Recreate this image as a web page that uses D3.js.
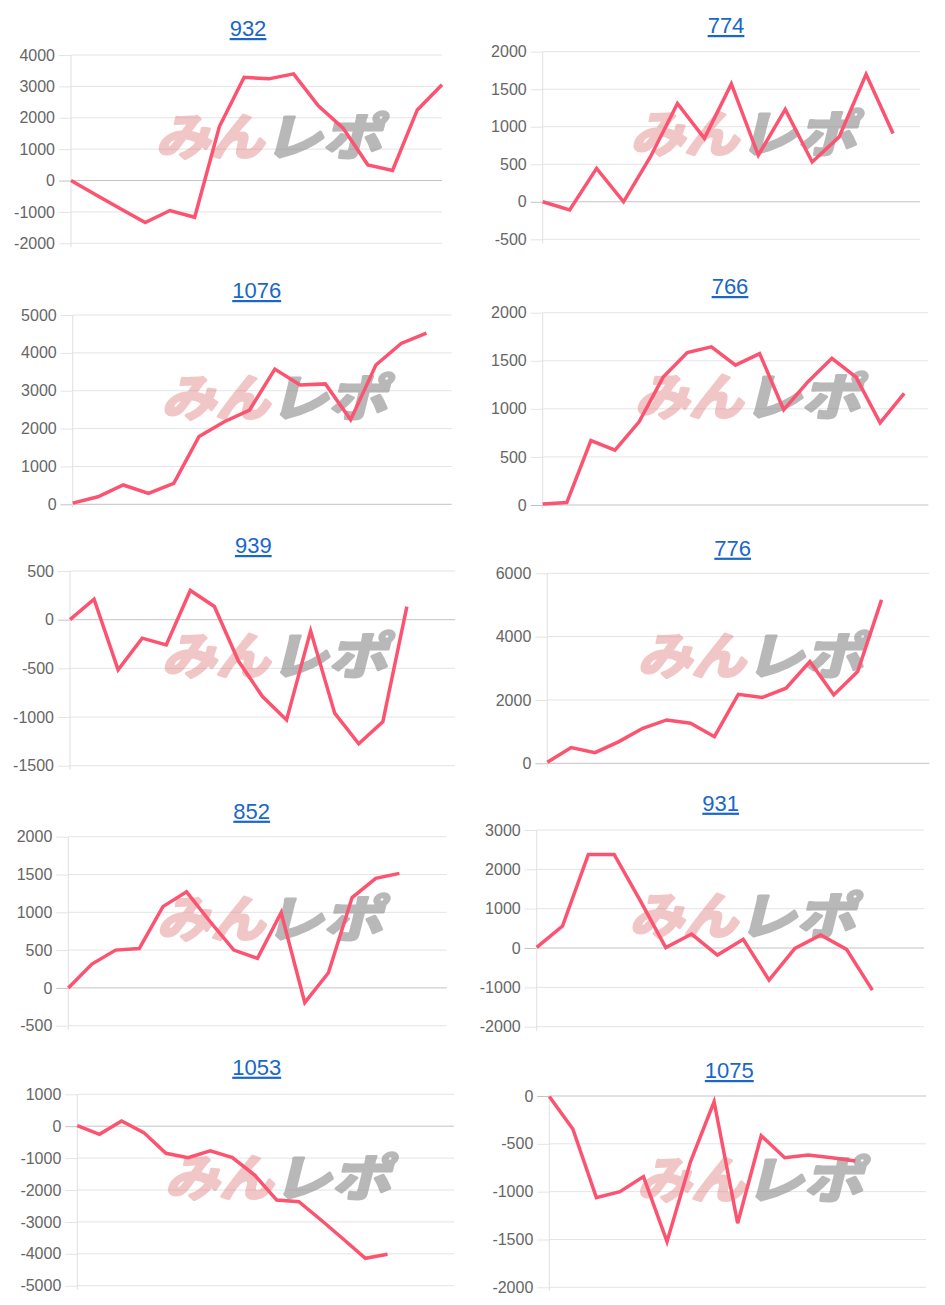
<!DOCTYPE html>
<html>
<head>
<meta charset="utf-8">
<script src="https://cdn.jsdelivr.net/npm/d3@7"></script>
<style>
  html, body { margin: 0; padding: 0; background: #fff; }
  svg { display: block; }
</style>
</head>
<body>
<svg id="chart" width="945" height="1305"></svg>
<script>
// ---------- DATA ----------
const titles = ["932", "774", "1076", "766", "939", "776", "852", "931", "1053", "1075"];

// number of x categories (hidden labels) per chart
const slotCounts = [16, 15, 16, 17, 17, 17, 17, 16, 18, 17];

const s932  = [0, -450, -900, -1340, -955, -1170, 1720, 3290, 3240, 3400, 2380, 1670, 500, 320, 2250, 3050];
const s774  = [0, -110, 445, 0, 600, 1310, 845, 1570, 620, 1230, 530, 865, 1700, 910];
const s1076 = [30, 200, 510, 290, 555, 1790, 2180, 2490, 3570, 3150, 3180, 2230, 3680, 4250, 4520];
const s766  = [10, 25, 670, 570, 865, 1330, 1585, 1645, 1455, 1575, 990, 1280, 1525, 1330, 855, 1160];
const s939  = [0, 210, -515, -190, -260, 300, 135, -425, -790, -1030, -115, -960, -1275, -1050, 135];
const s776  = [30, 495, 335, 685, 1105, 1370, 1265, 840, 2180, 2080, 2370, 3210, 2160, 2895, 5160];
const s852  = [0, 315, 500, 520, 1075, 1270, 875, 500, 390, 995, -195, 200, 1195, 1450, 1515];
const s931  = [15, 560, 2380, 2380, 1220, 10, 355, -180, 220, -815, -10, 330, -35, -1070];
const s1053 = [15, -255, 165, -200, -850, -985, -775, -985, -1530, -2315, -2365, -2940, -3535, -4140, -4015];
const s1075 = [-5, -345, -1063, -1000, -843, -1523, -686, -60, -1330, -415, -645, -617, -645, -680];

const seriesList = [s932, s774, s1076, s766, s939, s776, s852, s931, s1053, s1075];

// y tick labels per chart
const ticks932  = [-2000, -1000, 0, 1000, 2000, 3000, 4000];
const ticks774  = [-500, 0, 500, 1000, 1500, 2000];
const ticks1076 = [0, 1000, 2000, 3000, 4000, 5000];
const ticks766  = [0, 500, 1000, 1500, 2000];
const ticks939  = [-1500, -1000, -500, 0, 500];
const ticks776  = [0, 2000, 4000, 6000];
const ticks852  = [-500, 0, 500, 1000, 1500, 2000];
const ticks931  = [-2000, -1000, 0, 1000, 2000, 3000];
const ticks1053 = [-5000, -4000, -3000, -2000, -1000, 0, 1000];
const ticks1075 = [-2000, -1500, -1000, -500, 0];

const tickList = [ticks932, ticks774, ticks1076, ticks766, ticks939, ticks776, ticks852, ticks931, ticks1053, ticks1075];

// ---------- LAYOUT (plot boxes) ----------
const layout = [
  {l: 71,    r: 442,   t: 55,    b: 243.3,  tx: 248,   ty: 28},
  {l: 542.7, r: 920,   t: 51.7,  b: 239.3,  tx: 726,   ty: 25},
  {l: 72.7,  r: 451.7, t: 315,   b: 504.3,  tx: 256.7, ty: 290},
  {l: 542.7, r: 928.3, t: 312.7, b: 505,    tx: 730,   ty: 286},
  {l: 70,    r: 455,   t: 571,   b: 765.7,  tx: 253.3, ty: 545},
  {l: 547.3, r: 929.3, t: 573.3, b: 763.3,  tx: 732.7, ty: 547.7},
  {l: 68.3,  r: 446.7, t: 836.7, b: 1025.7, tx: 251.7, ty: 810.7},
  {l: 536.7, r: 924,   t: 830,   b: 1026.7, tx: 720.7, ty: 802.7},
  {l: 77.3,  r: 454,   t: 1094.3,b: 1285.7, tx: 256.7, ty: 1066.7},
  {l: 549.3, r: 926,   t: 1096,  b: 1287.3, tx: 729.3, ty: 1070}
];

const LINE_COLOR = "#fb5370";
const svg = d3.select("#chart");
svg.append("rect").attr("width", 945).attr("height", 1305).attr("fill", "#fff");

titles.forEach((title, i) => {
  const L = layout[i];
  const data = seriesList[i];
  const tks = tickList[i];
  const cats = d3.range(slotCounts[i]);

  const x = d3.scalePoint().domain(cats).range([L.l, L.r]);
  const y = d3.scaleLinear().domain([d3.min(tks), d3.max(tks)]).range([L.b, L.t]);

  const g = svg.append("g");

  // title
  g.append("text")
    .attr("x", L.tx).attr("y", L.ty + 8)
    .attr("text-anchor", "middle")
    .attr("font-family", "Liberation Sans, Arial, sans-serif")
    .attr("font-size", 22)
    .attr("fill", "#1967c9")
    .attr("text-decoration", "underline")
    .text(title);

  // y axis via d3.axisLeft, restyled
  const axis = d3.axisLeft(y).tickValues(tks).tickFormat(d => String(d))
    .tickSize(12).tickPadding(4);
  const ag = g.append("g").attr("transform", `translate(${L.l},0)`).call(axis);
  ag.select(".domain").remove();
  ag.selectAll(".tick line").attr("stroke", d => d === 0 ? "#c4c4c4" : "#e4e4e4");
  ag.selectAll(".tick text")
    .attr("font-family", "Liberation Sans, Arial, sans-serif")
    .attr("font-size", 16)
    .attr("fill", "#666");

  // horizontal gridlines
  g.append("g").selectAll("line").data(tks).join("line")
    .attr("x1", L.l).attr("x2", L.r)
    .attr("y1", d => y(d)).attr("y2", d => y(d))
    .attr("stroke", d => d === 0 ? "#c4c4c4" : "#e4e4e4")
    .attr("stroke-width", 1);

  // left axis line
  g.append("line")
    .attr("x1", L.l).attr("x2", L.l)
    .attr("y1", L.t).attr("y2", L.b + 4)
    .attr("stroke", "#e0e0e0");

  // watermark
  const cx = (L.l + L.r) / 2 + 20, cy = (L.t + L.b) / 2 - 13;
  const wm = g.append("g").attr("transform", `translate(${cx},${cy}) skewX(-14)`);
  wm.append("text")
    .attr("x", -116).attr("y", 19)
    .attr("font-family", "Noto Sans CJK JP")
    .attr("font-weight", 700)
    .attr("font-size", 50)
    .attr("textLength", 108).attr("lengthAdjust", "spacingAndGlyphs")
    .attr("fill", "#e07878").attr("stroke", "#e07878").attr("stroke-width", 3)
    .attr("stroke-linejoin", "round")
    .attr("opacity", 0.42)
    .text("みん");
  wm.append("text")
    .attr("x", -8).attr("y", 19)
    .attr("font-family", "Noto Sans CJK JP")
    .attr("font-weight", 700)
    .attr("font-size", 50)
    .attr("textLength", 118).attr("lengthAdjust", "spacingAndGlyphs")
    .attr("fill", "#8a8a8a").attr("stroke", "#8a8a8a").attr("stroke-width", 3)
    .attr("stroke-linejoin", "round")
    .attr("opacity", 0.6)
    .text("レポ");

  // line
  const line = d3.line().x((d, j) => x(cats[j])).y(d => y(d));
  g.append("path")
    .datum(data)
    .attr("d", line)
    .attr("fill", "none")
    .attr("stroke", LINE_COLOR)
    .attr("stroke-width", 3.5)
    .attr("stroke-linejoin", "miter");
});
</script>
</body>
</html>
